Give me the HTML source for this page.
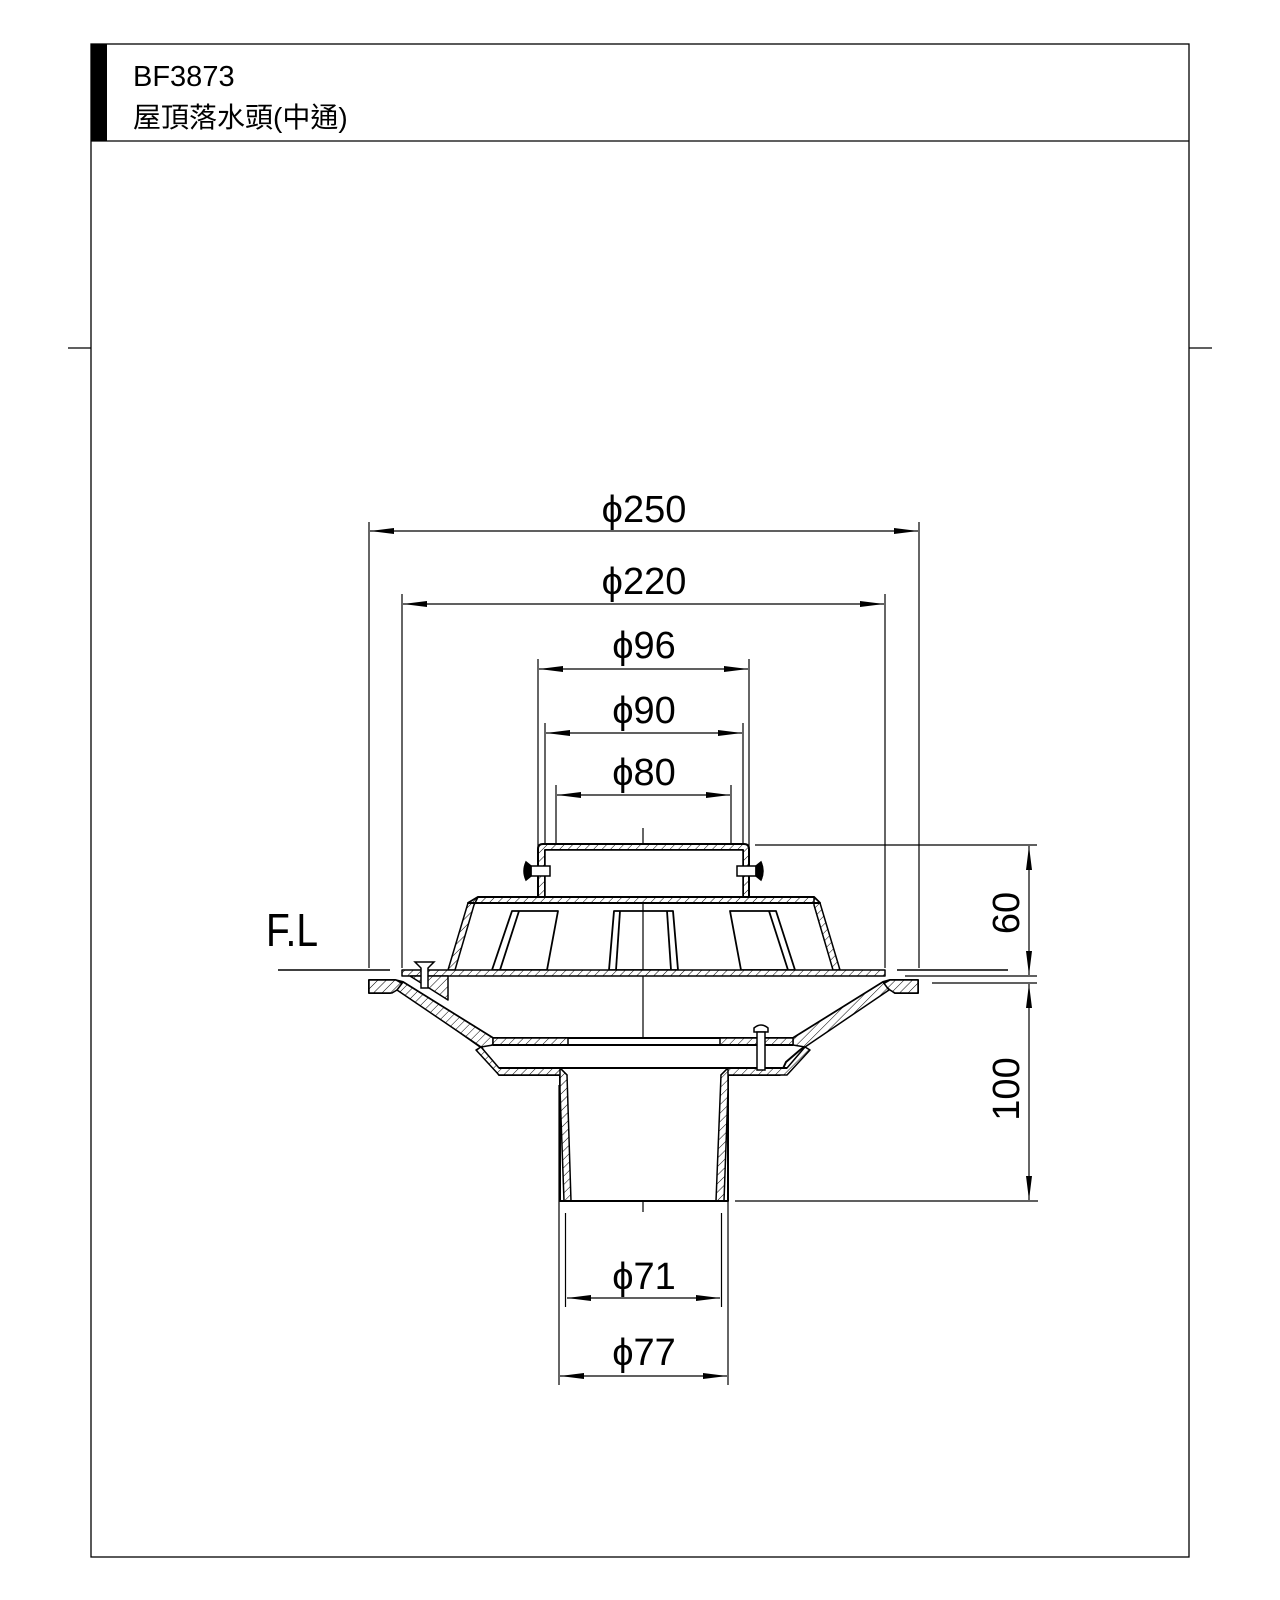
<!DOCTYPE html>
<html><head><meta charset="utf-8"><style>
html,body{margin:0;padding:0;background:#fff;}
svg{display:block;}
text{font-family:"Liberation Sans","Noto Sans CJK TC",sans-serif;fill:#000;}
</style></head><body>
<svg width="1280" height="1600" viewBox="0 0 1280 1600" xmlns="http://www.w3.org/2000/svg">
<defs>
<pattern id="h" width="6" height="6" patternUnits="userSpaceOnUse" patternTransform="rotate(45)">
<rect width="6" height="6" fill="#fff"/><line x1="0" y1="0" x2="0" y2="6" stroke="#000" stroke-width="1"/>
</pattern>
<marker id="a" viewBox="0 0 24 8" refX="24" refY="4" markerWidth="24" markerHeight="8" markerUnits="userSpaceOnUse" orient="auto-start-reverse">
<path d="M0,1 L24,4 L0,7 Z" fill="#000"/></marker>
</defs>
<!-- frame -->
<rect x="91" y="44" width="1098" height="1513" fill="none" stroke="#000" stroke-width="1.3"/>
<rect x="91" y="44" width="16" height="97" fill="#000"/>
<line x1="91" y1="141" x2="1189" y2="141" stroke="#000" stroke-width="1.3"/>
<line x1="68" y1="348" x2="91" y2="348" stroke="#000" stroke-width="1.3"/>
<line x1="1189" y1="348" x2="1212" y2="348" stroke="#000" stroke-width="1.3"/>
<text x="133" y="86" font-size="29">BF3873</text>
<text x="133" y="127" font-size="28">屋頂落水頭(中通)</text>

<g stroke="#000" stroke-width="1.2" fill="none">
<line x1="369" y1="522" x2="369" y2="968"/>
<line x1="919" y1="522" x2="919" y2="968"/>
<line x1="402" y1="594" x2="402" y2="968"/>
<line x1="885" y1="594" x2="885" y2="968"/>
<line x1="538" y1="659" x2="538" y2="848"/>
<line x1="749" y1="659" x2="749" y2="848"/>
<line x1="545" y1="723" x2="545" y2="848"/>
<line x1="743" y1="723" x2="743" y2="848"/>
<line x1="556" y1="785" x2="556" y2="878"/>
<line x1="731" y1="785" x2="731" y2="878"/>
<line x1="370" y1="531" x2="918" y2="531" marker-start="url(#a)" marker-end="url(#a)"/>
<line x1="403" y1="604" x2="884" y2="604" marker-start="url(#a)" marker-end="url(#a)"/>
<line x1="539" y1="669" x2="748" y2="669" marker-start="url(#a)" marker-end="url(#a)"/>
<line x1="546" y1="733" x2="742" y2="733" marker-start="url(#a)" marker-end="url(#a)"/>
<line x1="557" y1="795" x2="730" y2="795" marker-start="url(#a)" marker-end="url(#a)"/>
<line x1="643" y1="828" x2="643" y2="1212"/>
<line x1="278" y1="970" x2="390" y2="970" stroke-width="1.6"/>
<line x1="897" y1="970" x2="1008" y2="970" stroke-width="1.6"/>
<line x1="905" y1="976" x2="1037" y2="976"/>
<line x1="932" y1="983" x2="1037" y2="983"/>
<line x1="755" y1="845" x2="1037" y2="845"/>
<line x1="735" y1="1201" x2="1038" y2="1201"/>
<line x1="1029" y1="846" x2="1029" y2="975" marker-start="url(#a)" marker-end="url(#a)"/>
<line x1="1029" y1="984" x2="1029" y2="1200" marker-start="url(#a)" marker-end="url(#a)"/>
<line x1="565.5" y1="1213" x2="565.5" y2="1307"/>
<line x1="721.5" y1="1213" x2="721.5" y2="1307"/>
<line x1="559" y1="1085" x2="559" y2="1385"/>
<line x1="728" y1="1085" x2="728" y2="1385"/>
<line x1="567" y1="1298" x2="720" y2="1298" marker-start="url(#a)" marker-end="url(#a)"/>
<line x1="560" y1="1376" x2="727" y2="1376" marker-start="url(#a)" marker-end="url(#a)"/>
</g>

<g stroke="#000" stroke-width="2" stroke-linejoin="round">
<path d="M538,897 L538,849 Q538,844 543,844 L744,844 Q749,844 749,849 L749,897 L743,897 L743,850 L545,850 L545,897 Z" fill="url(#h)"/>
<rect x="545" y="850" width="198" height="47" fill="#fff" stroke-width="1.5"/>
<path d="M478,897 L814,897 L820,903 L468,903 Z" fill="url(#h)"/>
<path d="M478,897 L468,903 L448,970 L455,970 L474,905 Z" fill="url(#h)" stroke-width="1.5"/>
<path d="M814,897 L820,903 L840,970 L833,970 L814,905 Z" fill="url(#h)" stroke-width="1.5"/>
<line x1="468" y1="903" x2="820" y2="903"/>
<g fill="none" stroke-width="1.8">
<path d="M512,911 L558,911 L547,970 L492,970 Z"/><line x1="519" y1="911" x2="500" y2="970"/>
<path d="M614,911 L673,911 L678,970 L609,970 Z"/><line x1="620" y1="911" x2="616" y2="970"/><line x1="667" y1="911" x2="671" y2="970"/>
<path d="M730,911 L776,911 L795,970 L741,970 Z"/><line x1="769" y1="911" x2="788" y2="970"/>
</g>
<rect x="402" y="970" width="483" height="6" fill="url(#h)" stroke-width="1.5"/>
<path d="M369,980 L395,980 L403,982 L493,1038 L793,1038 L883,982 L890,980 L918,980 L918,993 L895,993 L885,986 L800,1050 L786,1062 L780,1075 L728,1075 L728,1201 L560,1201 L560,1075 L499,1075 L482,1048 L397,988 L390,993 L369,993 Z" fill="#fff"/>
<path d="M369,980 L396,980 L403,984 L397,990 L392,993 L369,993 Z" fill="url(#h)" stroke-width="1.5"/>
<path d="M918,980 L890,980 L883,984 L890,990 L895,993 L918,993 Z" fill="url(#h)" stroke-width="1.5"/>
<path d="M403,982 L493,1038 L493,1045 L481,1047 L397,990 Z" fill="url(#h)" stroke-width="1.5"/>
<path d="M883,982 L793,1038 L793,1045 L805,1047 L889,990 Z" fill="url(#h)" stroke-width="1.5"/>
<path d="M410,976 L448,976 L448,1000 Z" fill="url(#h)" stroke-width="1.5"/>
<rect x="493" y="1038" width="75" height="7" fill="url(#h)" stroke-width="1.5"/>
<rect x="720" y="1038" width="73" height="7" fill="url(#h)" stroke-width="1.5"/>
<line x1="493" y1="1045" x2="793" y2="1045"/>
<path d="M481,1047 L499,1068 L560,1068 L567,1075 L499,1075 L476,1050 Z" fill="url(#h)" stroke-width="1.5"/>
<path d="M805,1047 L787,1068 L728,1068 L721,1075 L787,1075 L810,1050 Z" fill="url(#h)" stroke-width="1.5"/>
<line x1="499" y1="1068" x2="787" y2="1068"/>
<path d="M560,1068 L567,1075 L571,1201 L564,1201 L560,1090 Z" fill="url(#h)" stroke-width="1.5"/>
<path d="M728,1068 L721,1075 L716,1201 L724,1201 L728,1090 Z" fill="url(#h)" stroke-width="1.5"/>
<line x1="564" y1="1201" x2="724" y2="1201"/>
</g>
<g stroke="#000" stroke-width="1.5" fill="#fff">
<rect x="531" y="866" width="19" height="10"/><path d="M526,862 Q522,871 526,880 L531,876 L531,866 Z" fill="#000"/>
<rect x="737" y="866" width="19" height="10"/><path d="M761,862 Q765,871 761,880 L756,876 L756,866 Z" fill="#000"/>
<path d="M415,962 L434,962 L428,968 L428,988 L421,988 L421,968 Z"/>
<path d="M754,1028 Q761,1022 768,1028 L768,1032 L754,1032 Z"/><rect x="757" y="1032" width="8" height="38"/>
</g>

<g font-size="38" text-anchor="middle">
<text x="644" y="522">ϕ250</text>
<text x="644" y="594">ϕ220</text>
<text x="644" y="658">ϕ96</text>
<text x="644" y="723">ϕ90</text>
<text x="644" y="785">ϕ80</text>
<text x="644" y="1289">ϕ71</text>
<text x="644" y="1365">ϕ77</text>
<text transform="translate(1019,913) rotate(-90)">60</text>
<text transform="translate(1019,1089) rotate(-90)">100</text>
</g>
<text x="266" y="946" font-size="46" textLength="52" lengthAdjust="spacingAndGlyphs">F.L</text>
</svg>
</body></html>
